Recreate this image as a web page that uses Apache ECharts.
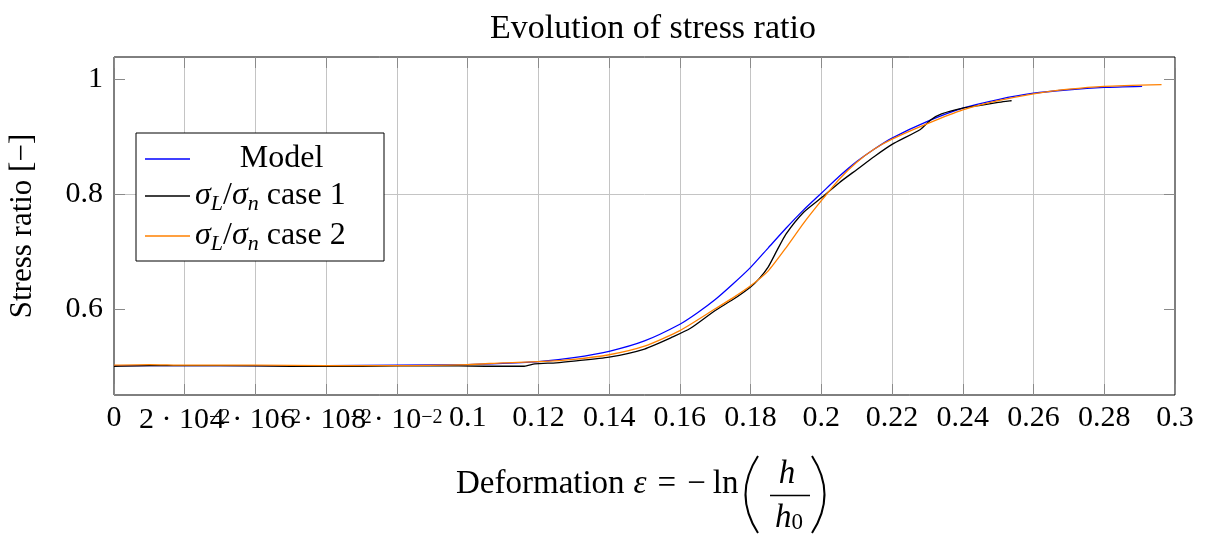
<!DOCTYPE html>
<html>
<head>
<meta charset="utf-8">
<script src="https://cdn.jsdelivr.net/npm/echarts@6/dist/echarts.min.js"></script>
<style>
  html, body { margin: 0; padding: 0; background: #fff; }
  #chart { width: 1205px; height: 534px; }
</style>
</head>
<body>
<div id="chart"></div>
<script>
// Stress ratio versus logarithmic deformation: model curve and two measured cases.
const FONT = '"Liberation Serif", "DejaVu Serif", serif';

const modelX = [0, 0.02, 0.04, 0.06, 0.08, 0.1, 0.11, 0.12, 0.13, 0.14, 0.15, 0.16, 0.165, 0.17, 0.175, 0.18, 0.185, 0.19, 0.195, 0.2, 0.205, 0.21, 0.215, 0.22, 0.23, 0.24, 0.25, 0.26, 0.27, 0.28, 0.2907];
const modelY = [0.502, 0.502, 0.502, 0.502, 0.503, 0.504, 0.506, 0.509, 0.516, 0.527, 0.545, 0.574, 0.594, 0.617, 0.644, 0.673, 0.707, 0.741, 0.773, 0.802, 0.831, 0.857, 0.879, 0.898, 0.927, 0.950, 0.965, 0.976, 0.982, 0.986, 0.988];

const case1X = [0, 0.01, 0.03, 0.05, 0.07, 0.09, 0.105, 0.116, 0.119, 0.125, 0.13, 0.14, 0.15, 0.158, 0.163, 0.17, 0.175, 0.18, 0.1825, 0.185, 0.1875, 0.19, 0.195, 0.2, 0.205, 0.21, 0.215, 0.22, 0.228, 0.231, 0.234, 0.24, 0.245, 0.25, 0.2538];
const case1Y = [0.501, 0.502, 0.502, 0.501, 0.501, 0.502, 0.501, 0.501, 0.505, 0.507, 0.510, 0.517, 0.531, 0.552, 0.567, 0.598, 0.617, 0.639, 0.654, 0.674, 0.703, 0.731, 0.769, 0.794, 0.820, 0.843, 0.866, 0.887, 0.913, 0.930, 0.940, 0.950, 0.955, 0.960, 0.963];

const case2X = [0, 0.01, 0.02, 0.04, 0.06, 0.08, 0.1, 0.11, 0.12, 0.13, 0.14, 0.15, 0.16, 0.17, 0.175, 0.18, 0.185, 0.19, 0.195, 0.2, 0.205, 0.21, 0.215, 0.22, 0.23, 0.24, 0.25, 0.26, 0.27, 0.28, 0.2962];
const case2Y = [0.503, 0.504, 0.503, 0.503, 0.502, 0.502, 0.504, 0.507, 0.509, 0.513, 0.521, 0.536, 0.563, 0.601, 0.620, 0.641, 0.667, 0.707, 0.750, 0.789, 0.826, 0.856, 0.879, 0.896, 0.923, 0.947, 0.963, 0.975, 0.983, 0.988, 0.991];

const seriesNames = ['Model', 'sigmaL/sigman case 1', 'sigmaL/sigman case 2'];
const seriesColors = ['#0000ff', '#000000', '#ff8000'];

const xTickStep = 0.02;
const xTickLabels = ['0', '2 · 10^{−2}', '4 · 10^{−2}', '6 · 10^{−2}', '8 · 10^{−2}', '0.1', '0.12', '0.14', '0.16', '0.18', '0.2', '0.22', '0.24', '0.26', '0.28', '0.3'];
const yTickValues = [0.6, 0.8, 1];
const yTickLabels = ['0.6', '0.8', '1'];

// "a^{b}" -> rich text with a superscript
function tickRich(s) {
  const m = s.match(/^(.*)\^\{(.*)\}$/);
  return m ? '{m|' + m[1] + '}{sup|' + m[2] + '}' : '{p|' + s + '}';
}

// legend names with subscripted sigma
function legendRich(name) {
  if (name === 'Model') return '{c|Model}';
  const tail = name.replace('sigmaL/sigman', '');
  return '{g|σ}{sub|L}{s|/}{g|σ}{sub|n}{s|' + tail + '}';
}

const zip = (xs, ys) => xs.map((x, i) => [x, ys[i]]);
const seriesData = [zip(modelX, modelY), zip(case1X, case1Y), zip(case2X, case2Y)];

const gridColor = '#c4c4c4';
const tickColor = '#8a8a8a';
const noLine = { show: false, onZero: false };
const innerTicks = { show: true, inside: true, length: 11, lineStyle: { color: tickColor, width: 1 } };

const chart = echarts.init(document.getElementById('chart'), null, { renderer: 'canvas' });

chart.setOption({
  animation: false,
  backgroundColor: '#fff',
  title: {
    text: 'Evolution of stress ratio',
    left: 648,
    top: 7,
    textAlign: 'center',
    textStyle: { fontFamily: FONT, fontSize: 34, fontWeight: 'normal', color: '#000' }
  },
  // the plot frame is the grid border
  grid: {
    left: 114, right: 30, top: 57, bottom: 139,
    show: true, borderColor: '#000', borderWidth: 1, backgroundColor: 'transparent',
    containLabel: false, outerBoundsMode: 'none'
  },
  legend: {
    orient: 'vertical',
    left: 136,
    top: 133,
    selectedMode: false,
    backgroundColor: '#fff',
    borderColor: '#000',
    borderWidth: 1,
    borderRadius: 0,
    padding: [10, 16, 6, 9],
    itemGap: 5,
    itemWidth: 45,
    itemHeight: 1.3,
    icon: 'rect',
    data: seriesNames,
    formatter: legendRich,
    textStyle: {
      fontFamily: FONT, fontSize: 32, color: '#000',
      rich: {
        c: { fontFamily: FONT, fontSize: 32, lineHeight: 38, width: 173, align: 'center' },
        g: { fontFamily: FONT, fontSize: 32, lineHeight: 38, fontStyle: 'italic' },
        sub: { fontFamily: FONT, fontSize: 22, lineHeight: 24, fontStyle: 'italic', verticalAlign: 'bottom' },
        s: { fontFamily: FONT, fontSize: 32, lineHeight: 38 }
      }
    }
  },
  xAxis: [
    {
      type: 'value', position: 'bottom', min: 0, max: 0.3, interval: xTickStep,
      axisLine: noLine,
      axisTick: innerTicks,
      splitLine: { show: true, showMinLine: false, showMaxLine: false, lineStyle: { color: gridColor, width: 1 } },
      axisLabel: {
        show: true, interval: 0, hideOverlap: false, margin: 8, color: '#000',
        showMinLabel: true, showMaxLabel: true,
        formatter: v => tickRich(xTickLabels[Math.round(v / xTickStep)] || ''),
        rich: {
          p: { fontFamily: FONT, fontSize: 30, lineHeight: 30 },
          m: { fontFamily: FONT, fontSize: 30, lineHeight: 30, padding: [5, 0, 0, 0] },
          sup: { fontFamily: FONT, fontSize: 20, lineHeight: 14, verticalAlign: 'top', padding: [5, 0, 0, 0] }
        }
      }
    },
    {
      type: 'value', position: 'top', min: 0, max: 0.3, interval: xTickStep,
      axisLine: noLine,
      axisTick: innerTicks,
      splitLine: { show: false },
      axisLabel: { show: false }
    }
  ],
  yAxis: [
    {
      type: 'value', position: 'left', min: 0.451, max: 1.039,
      name: 'Stress ratio [−]', nameLocation: 'middle', nameRotate: 90, nameGap: 76,
      nameTextStyle: { fontFamily: FONT, fontSize: 31, color: '#000' },
      axisLine: noLine,
      axisTick: Object.assign({ customValues: yTickValues }, innerTicks),
      splitLine: { show: true, showMinLine: false, showMaxLine: false, lineStyle: { color: gridColor, width: 1 } },
      axisLabel: {
        show: true, margin: 11, color: '#000', fontFamily: FONT, fontSize: 30,
        customValues: yTickValues,
        formatter: v => yTickLabels[yTickValues.findIndex(t => Math.abs(t - v) < 1e-9)] || ''
      }
    },
    {
      type: 'value', position: 'right', min: 0.451, max: 1.039,
      axisLine: noLine,
      axisTick: Object.assign({ customValues: yTickValues }, innerTicks),
      splitLine: { show: false },
      axisLabel: { show: false }
    }
  ],
  series: seriesNames.map((name, i) => ({
    name: name,
    type: 'line',
    xAxisIndex: 0,
    yAxisIndex: 0,
    data: seriesData[i],
    symbol: 'none',
    showSymbol: false,
    smooth: 0.2,
    color: seriesColors[i],
    lineStyle: { color: seriesColors[i], width: 1.3 },
    emphasis: { disabled: true },
    z: 3 + i
  })),
  graphic: [
    // horizontal axis title: Deformation ε = − ln(h / h0)
    {
      type: 'text', left: 456, top: 468, silent: true,
      style: {
        text: '{r|Deformation}{i|ε}{o|=}{o|−}{l|ln}',
        fill: '#000',
        rich: {
          r: { fontFamily: FONT, fontSize: 33, lineHeight: 34 },
          i: { fontFamily: FONT, fontSize: 33, lineHeight: 34, fontStyle: 'italic', padding: [0, 0, 0, 9] },
          o: { fontFamily: FONT, fontSize: 33, lineHeight: 34, padding: [0, 0, 0, 11] },
          l: { fontFamily: FONT, fontSize: 33, lineHeight: 34, padding: [0, 0, 0, 7] }
        }
      }
    },
    {
      type: 'bezierCurve', silent: true,
      shape: { x1: 758, y1: 456, x2: 758, y2: 533, cpx1: 733, cpy1: 494.5 },
      style: { stroke: '#000', lineWidth: 2, fill: null }
    },
    {
      type: 'bezierCurve', silent: true,
      shape: { x1: 812, y1: 456, x2: 812, y2: 533, cpx1: 837, cpy1: 494.5 },
      style: { stroke: '#000', lineWidth: 2, fill: null }
    },
    {
      type: 'text', silent: true, x: 787, y: 474,
      style: { text: 'h', fontFamily: FONT, fontSize: 33, fontStyle: 'italic', fill: '#000', align: 'center', verticalAlign: 'middle' }
    },
    {
      type: 'line', silent: true,
      shape: { x1: 770, y1: 495.5, x2: 810, y2: 495.5 },
      style: { stroke: '#000', lineWidth: 1.3 }
    },
    {
      type: 'text', silent: true, x: 789, y: 518,
      style: {
        text: '{i|h}{sub|0}', fill: '#000', align: 'center', verticalAlign: 'middle',
        rich: {
          i: { fontFamily: FONT, fontSize: 33, lineHeight: 32, fontStyle: 'italic' },
          sub: { fontFamily: FONT, fontSize: 23, lineHeight: 20, verticalAlign: 'bottom' }
        }
      }
    }
  ]
});
</script>
</body>
</html>
